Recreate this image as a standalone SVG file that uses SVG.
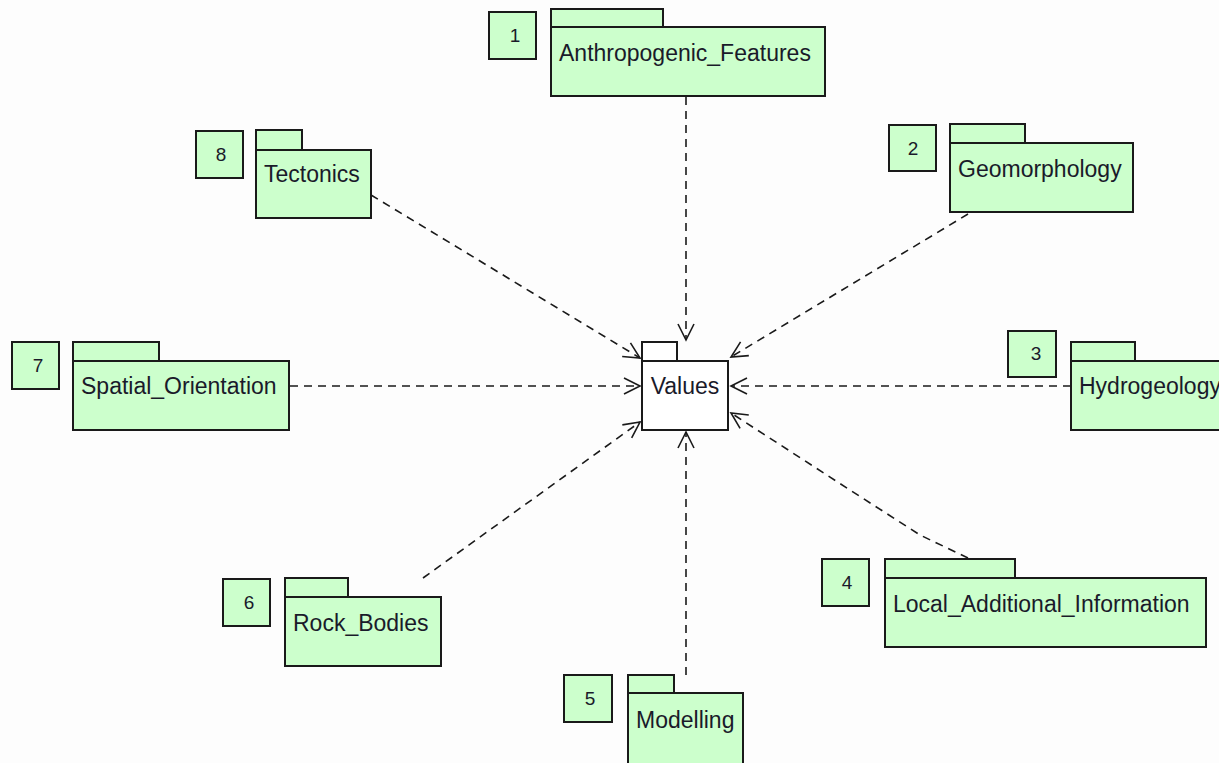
<svg xmlns="http://www.w3.org/2000/svg" width="1219" height="763" viewBox="0 0 1219 763">
<style>
.pk{fill:#ccffcc;stroke:#1a1a1a;stroke-width:2}
.vl{fill:#ffffff;stroke:#1a1a1a;stroke-width:2}
.t{font-family:"Liberation Sans",Arial,sans-serif;font-size:23px;fill:#1a1a2a}
.n{font-family:"Liberation Sans",Arial,sans-serif;font-size:19px;fill:#1a1a2a;text-anchor:middle}
.c{fill:none;stroke:#1a1a1a;stroke-width:1.6;stroke-dasharray:8 6}
</style>
<defs>
<marker id="ah" markerUnits="userSpaceOnUse" markerWidth="20" markerHeight="20" refX="16" refY="8" orient="auto" overflow="visible">
<path d="M0,0 L16,8 L0,16" fill="none" stroke="#1a1a1a" stroke-width="1.6"/>
</marker>
</defs>
<rect width="1219" height="763" fill="#fdfdfd"/>
<g id="connectors">
<line class="c" x1="686" y1="97" x2="686" y2="340" marker-end="url(#ah)"/>
<line class="c" x1="968" y1="214" x2="731" y2="357" marker-end="url(#ah)"/>
<line class="c" x1="1071" y1="386" x2="731" y2="386" marker-end="url(#ah)"/>
<path class="c" d="M968,558 L920,535 L850,490 L731,413" marker-end="url(#ah)"/>
<line class="c" x1="686" y1="675" x2="686" y2="432" marker-end="url(#ah)"/>
<line class="c" x1="423" y1="578" x2="640" y2="422" marker-end="url(#ah)"/>
<line class="c" x1="290" y1="386" x2="640" y2="386" marker-end="url(#ah)"/>
<line class="c" x1="371" y1="195" x2="640" y2="358" marker-end="url(#ah)"/>
</g>
<g id="values">
<rect class="vl" x="642" y="342" width="35" height="19"/>
<rect class="vl" x="642" y="361" width="86" height="69"/>
<text class="t" x="685" y="394" text-anchor="middle">Values</text>
</g>
<g id="pkg1">
<rect class="pk" x="489" y="12" width="47" height="47"/>
<text class="n" x="515" y="42">1</text>
<rect class="pk" x="551" y="9" width="112" height="18"/>
<rect class="pk" x="551" y="27" width="274" height="69"/>
<text class="t" x="559" y="61">Anthropogenic_Features</text>
</g>
<g id="pkg2">
<rect class="pk" x="889" y="125" width="47" height="46"/>
<text class="n" x="913" y="155">2</text>
<rect class="pk" x="950" y="124" width="75" height="19"/>
<rect class="pk" x="950" y="143" width="183" height="69"/>
<text class="t" x="958" y="177">Geomorphology</text>
</g>
<g id="pkg3">
<rect class="pk" x="1008" y="331" width="48" height="46"/>
<text class="n" x="1036" y="360">3</text>
<rect class="pk" x="1071" y="342" width="64" height="19"/>
<rect class="pk" x="1071" y="361" width="160" height="69"/>
<text class="t" x="1079" y="394">Hydrogeology</text>
</g>
<g id="pkg4">
<rect class="pk" x="822" y="559" width="47" height="47"/>
<text class="n" x="847" y="589">4</text>
<rect class="pk" x="885" y="559" width="130" height="19"/>
<rect class="pk" x="885" y="578" width="321" height="69"/>
<text class="t" x="893" y="612">Local_Additional_Information</text>
</g>
<g id="pkg5">
<rect class="pk" x="564" y="675" width="48" height="47"/>
<text class="n" x="590" y="705">5</text>
<rect class="pk" x="628" y="675" width="46" height="18"/>
<rect class="pk" x="628" y="693" width="115" height="75"/>
<text class="t" x="636" y="728">Modelling</text>
</g>
<g id="pkg6">
<rect class="pk" x="223" y="579" width="47" height="47"/>
<text class="n" x="249" y="609">6</text>
<rect class="pk" x="285" y="578" width="63" height="19"/>
<rect class="pk" x="285" y="597" width="156" height="69"/>
<text class="t" x="293" y="631">Rock_Bodies</text>
</g>
<g id="pkg7">
<rect class="pk" x="12" y="342" width="47" height="47"/>
<text class="n" x="38" y="372">7</text>
<rect class="pk" x="73" y="342" width="86" height="19"/>
<rect class="pk" x="73" y="361" width="216" height="69"/>
<text class="t" x="81" y="394">Spatial_Orientation</text>
</g>
<g id="pkg8">
<rect class="pk" x="196" y="131" width="47" height="47"/>
<text class="n" x="221" y="161">8</text>
<rect class="pk" x="256" y="130" width="46" height="20"/>
<rect class="pk" x="256" y="150" width="115" height="68"/>
<text class="t" x="264" y="182">Tectonics</text>
</g>
</svg>
